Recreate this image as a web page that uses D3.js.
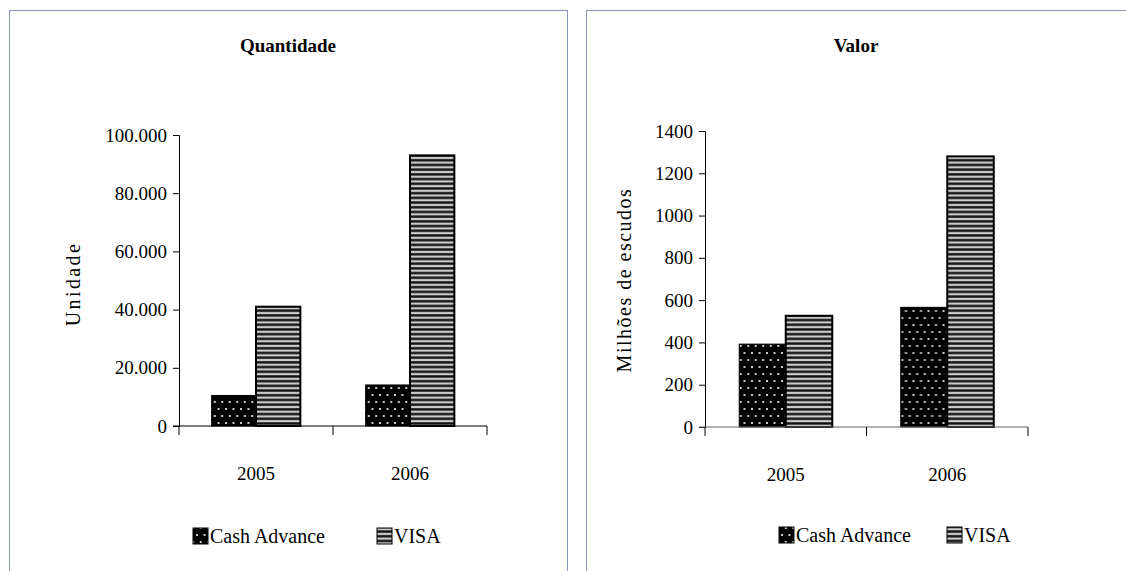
<!DOCTYPE html>
<html>
<head>
<meta charset="utf-8">
<script src="https://cdn.jsdelivr.net/npm/d3@7"></script>
<style>
  html, body { margin: 0; padding: 0; background: #fff; }
  svg { display: block; }
</style>
</head>
<body>
<svg id="chart" width="1126" height="571"></svg>
<script>
// Cartões: quantidade e valor por ano
const years = ["2005", "2006"];
const seriesNames = ["Cash Advance", "VISA"];

const quantidadeCash = [10500, 14100];
const quantidadeVisa = [41000, 93000];
const quantidadeTicks = [0, 20000, 40000, 60000, 80000, 100000];

const valorCash = [392, 566];
const valorVisa = [526, 1280];
const valorTicks = [0, 200, 400, 600, 800, 1000, 1200, 1400];

const SERIF = "'Liberation Serif', 'DejaVu Serif', serif";

const svg = d3.select("#chart").attr("font-family", SERIF);
const defs = svg.append("defs");

// Dotted fill for Cash Advance
const dots = defs.append("pattern")
  .attr("id", "dots").attr("patternUnits", "userSpaceOnUse")
  .attr("width", 15).attr("height", 14);
dots.append("rect").attr("width", 15).attr("height", 14).attr("fill", "#000");
[[2, 3], [9.5, 3], [5.75, 10], [13.25, 10]].forEach(([cx, cy]) => {
  dots.append("rect").attr("x", cx - 1).attr("y", cy - 1)
    .attr("width", 2).attr("height", 2).attr("fill", "#c8c8c8");
});

// Horizontal stripes for VISA
const stripes = defs.append("pattern")
  .attr("id", "stripes").attr("patternUnits", "userSpaceOnUse")
  .attr("width", 10).attr("height", 4.7);
stripes.append("rect").attr("width", 10).attr("height", 4.7).attr("fill", "#111");
stripes.append("rect").attr("y", 1.6).attr("width", 10).attr("height", 2.4).attr("fill", "#a8a8a8");
stripes.append("rect").attr("y", 2.4).attr("width", 10).attr("height", 0.9).attr("fill", "#f0f0f0");

const fills = ["url(#dots)", "url(#stripes)"];

function txt(sel, size, weight) {
  return sel.style("font-family", SERIF).style("font-size", size + "px")
    .style("font-weight", weight || "normal").attr("fill", "#000");
}

function drawPanel(cfg) {
  const g = svg.append("g");

  // frame
  g.append("rect")
    .attr("x", cfg.frame[0] + 0.5).attr("y", cfg.frame[1] + 0.5)
    .attr("width", cfg.frame[2]).attr("height", cfg.frame[3])
    .attr("fill", "none").attr("stroke", "#8a94b4").attr("stroke-width", 1);

  // title
  txt(g.append("text"), 19, "bold")
    .attr("x", cfg.titleX).attr("y", 52)
    .attr("text-anchor", "middle")
    .text(cfg.title);

  const y = d3.scaleLinear().domain([0, cfg.max]).range([cfg.y0, cfg.y1]);
  const x = d3.scaleBand().domain(years).range([cfg.x0, cfg.x1]).padding(0);
  const inner = d3.scaleBand().domain(seriesNames)
    .range([x.bandwidth() * 0.212, x.bandwidth() * 0.788]).padding(0);

  // bars
  const data = years.map((yr, i) => ({ yr, vals: [cfg.cash[i], cfg.visa[i]] }));
  const groups = g.selectAll("g.grp").data(data).join("g")
    .attr("transform", d => `translate(${x(d.yr)},0)`);
  groups.selectAll("rect").data(d => d.vals.map((v, k) => ({ v, k })))
    .join("rect")
    .attr("x", d => inner(seriesNames[d.k]))
    .attr("y", d => y(d.v))
    .attr("width", inner.bandwidth())
    .attr("height", d => y(0) - y(d.v))
    .attr("fill", d => fills[d.k])
    .attr("stroke", "#000")
    .attr("stroke-width", d => d.k === 1 ? 2 : 1);

  // y axis
  const ya = g.append("g").attr("transform", `translate(${cfg.x0},0)`)
    .call(d3.axisLeft(y).tickValues(cfg.ticks).tickSize(6).tickPadding(6)
      .tickFormat(cfg.fmt));
  ya.attr("font-family", SERIF);
  ya.select(".domain").attr("stroke", "#000");
  ya.selectAll(".tick line").attr("stroke", "#000");
  txt(ya.selectAll("text"), 19);

  // x axis
  const xa = g.append("g").attr("transform", `translate(0,${cfg.y0})`);
  xa.append("line").attr("x1", cfg.x0 - 6).attr("x2", cfg.x1)
    .attr("stroke", cfg.xAxisColor).attr("stroke-width", 1.2);
  const bounds = [cfg.x0, cfg.x0 + x.step(), cfg.x1];
  xa.selectAll("line.tk").data(bounds).join("line")
    .attr("class", "tk")
    .attr("x1", d => d).attr("x2", d => d).attr("y1", 0).attr("y2", 9)
    .attr("stroke", "#000");
  txt(xa.selectAll("text").data(years).join("text"), 19)
    .attr("x", d => x(d) + x.bandwidth() / 2).attr("y", 54)
    .attr("text-anchor", "middle")
    .text(d => d);

  // y axis title
  txt(g.append("text"), cfg.yTitleSize)
    .attr("transform", `translate(${cfg.yTitleX},${cfg.yTitleY}) rotate(-90)`)
    .attr("text-anchor", "middle")
    .style("letter-spacing", cfg.yTitleSpacing)
    .text(cfg.yTitle);

  // legend
  const lg = g.append("g");
  cfg.legend.forEach((l, k) => {
    lg.append("rect")
      .attr("x", l.x).attr("y", cfg.legendY - 15)
      .attr("width", 15).attr("height", 16)
      .attr("fill", fills[k]).attr("stroke", "#000").attr("stroke-width", 1);
    txt(lg.append("text"), 20)
      .attr("x", l.x + 17).attr("y", cfg.legendY)
      .text(seriesNames[k]);
  });
}

const fmtDot = d => d3.format(",")(d).replace(/,/g, ".");

drawPanel({
  frame: [9, 10, 558, 600],
  title: "Quantidade", titleX: 288,
  max: 100000, ticks: quantidadeTicks, fmt: fmtDot,
  cash: quantidadeCash, visa: quantidadeVisa,
  x0: 179, x1: 487, y0: 426, y1: 135,
  xAxisColor: "#000",
  yTitle: "Unidade", yTitleX: 80, yTitleY: 284, yTitleSize: 20, yTitleSpacing: "2.4px",
  legend: [{ x: 193 }, { x: 377 }], legendY: 543
});

drawPanel({
  frame: [586, 10, 600, 600],
  title: "Valor", titleX: 856,
  max: 1400, ticks: valorTicks, fmt: d3.format("d"),
  cash: valorCash, visa: valorVisa,
  x0: 705, x1: 1028, y0: 427, y1: 131,
  xAxisColor: "#666",
  yTitle: "Milhões de escudos", yTitleX: 631, yTitleY: 280, yTitleSize: 20, yTitleSpacing: "1.5px",
  legend: [{ x: 779 }, { x: 947 }], legendY: 542
});
</script>
</body>
</html>
